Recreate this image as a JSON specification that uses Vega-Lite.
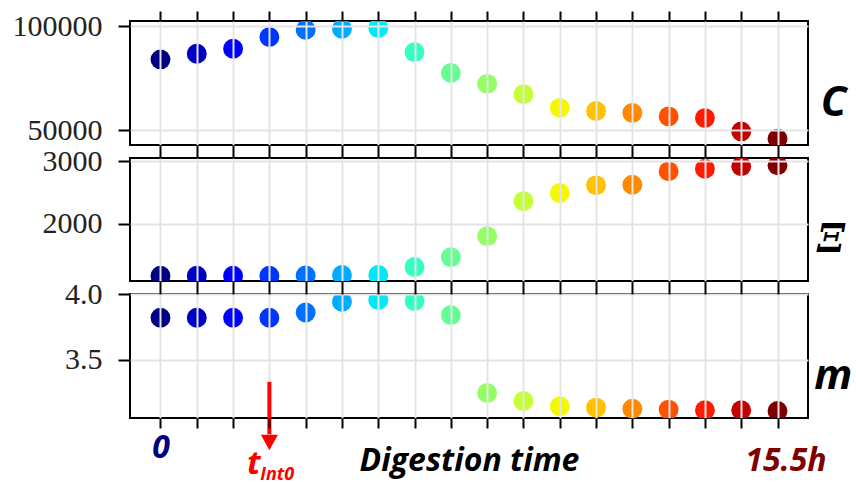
{
  "$schema": "https://vega.github.io/schema/vega-lite/v6.json",
  "background": "white",
  "padding": {"left": 11, "top": 9, "right": 5, "bottom": 0},
  "spacing": 13,
  "bounds": "flush",
  "datasets": {
    "pts": [
      {"i": 0, "C": 84000, "Xi": 1175, "m": 3.819},
      {"i": 1, "C": 86700, "Xi": 1175, "m": 3.819},
      {"i": 2, "C": 89100, "Xi": 1175, "m": 3.819},
      {"i": 3, "C": 94700, "Xi": 1175, "m": 3.819},
      {"i": 4, "C": 98200, "Xi": 1178, "m": 3.859},
      {"i": 5, "C": 98700, "Xi": 1185, "m": 3.941},
      {"i": 6, "C": 99000, "Xi": 1185, "m": 3.954},
      {"i": 7, "C": 87500, "Xi": 1314, "m": 3.946},
      {"i": 8, "C": 77500, "Xi": 1469, "m": 3.839},
      {"i": 9, "C": 72300, "Xi": 1804, "m": 3.245},
      {"i": 10, "C": 67300, "Xi": 2362, "m": 3.184},
      {"i": 11, "C": 60800, "Xi": 2494, "m": 3.144},
      {"i": 12, "C": 59300, "Xi": 2617, "m": 3.133},
      {"i": 13, "C": 58400, "Xi": 2627, "m": 3.125},
      {"i": 14, "C": 56700, "Xi": 2840, "m": 3.118},
      {"i": 15, "C": 55900, "Xi": 2882, "m": 3.113},
      {"i": 16, "C": 49500, "Xi": 2920, "m": 3.113},
      {"i": 17, "C": 46000, "Xi": 2936, "m": 3.108}
    ]
  },
  "config": {
    "view": {"stroke": "black", "strokeWidth": 2},
    "axis": {
      "gridColor": "#e4e4e4", "gridWidth": 2, "domain": false,
      "tickColor": "black", "tickWidth": 2,
      "labelFont": "Liberation Serif", "labelFontSize": 30, "labelColor": "#222222"
    },
    "title": {"orient": "right", "angle": 0, "anchor": "middle", "align": "left", "baseline": "middle", "offset": 0, "color": "black"}
  },
  "vconcat": [
    {
      "width": 678, "height": 124,
      "data": {"name": "pts"},
      "title": {"text": "C", "font": "Open Sans", "fontStyle": "italic", "fontWeight": "bold", "fontSize": 42, "offset": 0},
      "mark": {"type": "circle", "size": 395, "opacity": 1, "clip": true},
      "encoding": {
        "x": {"field": "i", "type": "quantitative",
          "scale": {"domain": [-0.84, 17.84], "nice": false, "zero": false},
          "axis": {"orient": "top", "zindex": 1, "values": [0,1,2,3,4,5,6,7,8,9,10,11,12,13,14,15,16,17], "labels": false, "tickSize": 10, "title": null}},
        "y": {"field": "C", "type": "quantitative",
          "scale": {"domain": [43000, 102400], "nice": false, "zero": false},
          "axis": {"zindex": 1, "values": [50000, 100000], "format": "d", "tickSize": 12, "labelPadding": 16, "title": null}},
        "color": {"field": "i", "type": "ordinal", "legend": null,
          "scale": {"range": ["#000080","#0000c4","#0000ff","#0035ff","#0071ff","#00acff","#02e8f4","#33ffc4","#63ff94","#93ff63","#c4ff33","#f4f802","#ffc100","#ff8900","#ff5200","#ff1a00","#c40000","#800000"]}}
      }
    },
    {
      "width": 678, "height": 123,
      "data": {"name": "pts"},
      "title": {"text": "Ξ", "font": "DejaVu Serif", "fontStyle": "italic", "fontWeight": "bold", "fontSize": 40, "offset": -5},
      "mark": {"type": "circle", "size": 395, "opacity": 1, "clip": true},
      "encoding": {
        "x": {"field": "i", "type": "quantitative",
          "scale": {"domain": [-0.84, 17.84], "nice": false, "zero": false},
          "axis": {"orient": "top", "zindex": 1, "values": [0,1,2,3,4,5,6,7,8,9,10,11,12,13,14,15,16,17], "labels": false, "tickSize": 13, "title": null}},
        "y": {"field": "Xi", "type": "quantitative",
          "scale": {"domain": [1090, 3053], "nice": false, "zero": false},
          "axis": {"zindex": 1, "values": [2000, 3000], "format": "d", "tickSize": 12, "labelPadding": 16, "title": null}},
        "color": {"field": "i", "type": "ordinal", "legend": null,
          "scale": {"range": ["#000080","#0000c4","#0000ff","#0035ff","#0071ff","#00acff","#02e8f4","#33ffc4","#63ff94","#93ff63","#c4ff33","#f4f802","#ffc100","#ff8900","#ff5200","#ff1a00","#c40000","#800000"]}}
      }
    },
    {
      "width": 678, "height": 124,
      "title": {"text": "m", "font": "Open Sans", "fontStyle": "italic", "fontWeight": "bold", "fontSize": 42, "offset": -31},
      "resolve": {"axis": {"x": "independent"}},
      "layer": [
        {
          "data": {"name": "pts"},
          "mark": {"type": "circle", "size": 395, "opacity": 1, "clip": true},
          "encoding": {
            "x": {"field": "i", "type": "quantitative",
              "scale": {"domain": [-0.84, 17.84], "nice": false, "zero": false},
              "axis": {"orient": "top", "zindex": 1, "values": [0,1,2,3,4,5,6,7,8,9,10,11,12,13,14,15,16,17], "labels": false, "tickSize": 13, "title": null,
                "gridDash": {"condition": {"test": "datum.value == 3", "value": [0, 37, 300]}, "value": []}}},
            "y": {"field": "m", "type": "quantitative",
              "scale": {"domain": [3.054, 4.0], "nice": false, "zero": false},
              "axis": {"zindex": 1, "values": [3.5, 4.0], "format": ".1f", "tickSize": 12, "labelPadding": 16, "title": null}},
            "color": {"field": "i", "type": "ordinal", "legend": null,
              "scale": {"range": ["#000080","#0000c4","#0000ff","#0035ff","#0071ff","#00acff","#02e8f4","#33ffc4","#63ff94","#93ff63","#c4ff33","#f4f802","#ffc100","#ff8900","#ff5200","#ff1a00","#c40000","#800000"]}}
          }
        },
        {
          "data": {"values": [{"i": 3, "top": 3.33, "bottom": 2.93}]},
          "mark": {"type": "rule", "color": "#ff0000", "strokeWidth": 4, "clip": false},
          "encoding": {
            "x": {"field": "i", "type": "quantitative",
              "scale": {"domain": [-0.84, 17.84], "nice": false, "zero": false},
              "axis": {"orient": "bottom", "zindex": 1, "values": [0,1,2,3,4,5,6,7,8,9,10,11,12,13,14,15,16,17],
                "grid": false, "tickSize": 10,
                "labelExpr": "datum.value == 0 ? '0' : (datum.value == 17 ? '15.5h' : '')",
                "labelFont": "Open Sans", "labelFontStyle": "italic", "labelFontWeight": "bold", "labelFontSize": 32,
                "labelBaseline": "alphabetic",
                "labelColor": {"condition": {"test": "datum.value == 0", "value": "#000080"}, "value": "#800000"},
                "labelPadding": {"condition": {"test": "datum.value == 0", "value": 29}, "value": 42},
                "labelOffset": {"condition": {"test": "datum.value == 0", "value": 0}, "value": 8},
                "title": "Digestion time", "titleFont": "Open Sans", "titleFontStyle": "italic", "titleFontWeight": "bold",
                "titleFontSize": 32, "titleColor": "black", "titleBaseline": "alphabetic", "titleY": 52}},
            "y": {"field": "top", "type": "quantitative", "scale": {"domain": [3.054, 4.0], "nice": false, "zero": false}, "title": null},
            "y2": {"field": "bottom"}
          }
        },
        {
          "data": {"values": [{"i": 3, "v": 2.867}]},
          "mark": {"type": "point", "shape": "M-1,-0.9L1,-0.9L0,0.9Z", "size": 289, "filled": true, "color": "#ff0000", "opacity": 1, "clip": false},
          "encoding": {
            "x": {"field": "i", "type": "quantitative", "scale": {"domain": [-0.84, 17.84], "nice": false, "zero": false}, "axis": null},
            "y": {"field": "v", "type": "quantitative", "scale": {"domain": [3.054, 4.0], "nice": false, "zero": false}, "title": null}
          }
        },
        {
          "data": {"values": [{"i": 2.567, "v": 2.63, "label": "t"}]},
          "mark": {"type": "text", "font": "Open Sans", "fontStyle": "italic", "fontWeight": "bold", "fontSize": 33, "color": "#ff0000", "align": "center", "baseline": "alphabetic", "clip": false},
          "encoding": {
            "x": {"field": "i", "type": "quantitative", "scale": {"domain": [-0.84, 17.84], "nice": false, "zero": false}, "axis": null},
            "y": {"field": "v", "type": "quantitative", "scale": {"domain": [3.054, 4.0], "nice": false, "zero": false}, "title": null},
            "text": {"field": "label"}
          }
        },
        {
          "data": {"values": [{"i": 2.747, "v": 2.578, "label": "Int0"}]},
          "mark": {"type": "text", "font": "Open Sans", "fontStyle": "italic", "fontWeight": "bold", "fontSize": 18, "color": "#ff0000", "align": "left", "baseline": "alphabetic", "clip": false},
          "encoding": {
            "x": {"field": "i", "type": "quantitative", "scale": {"domain": [-0.84, 17.84], "nice": false, "zero": false}, "axis": null},
            "y": {"field": "v", "type": "quantitative", "scale": {"domain": [3.054, 4.0], "nice": false, "zero": false}, "title": null},
            "text": {"field": "label"}
          }
        }
      ]
    }
  ]
}
